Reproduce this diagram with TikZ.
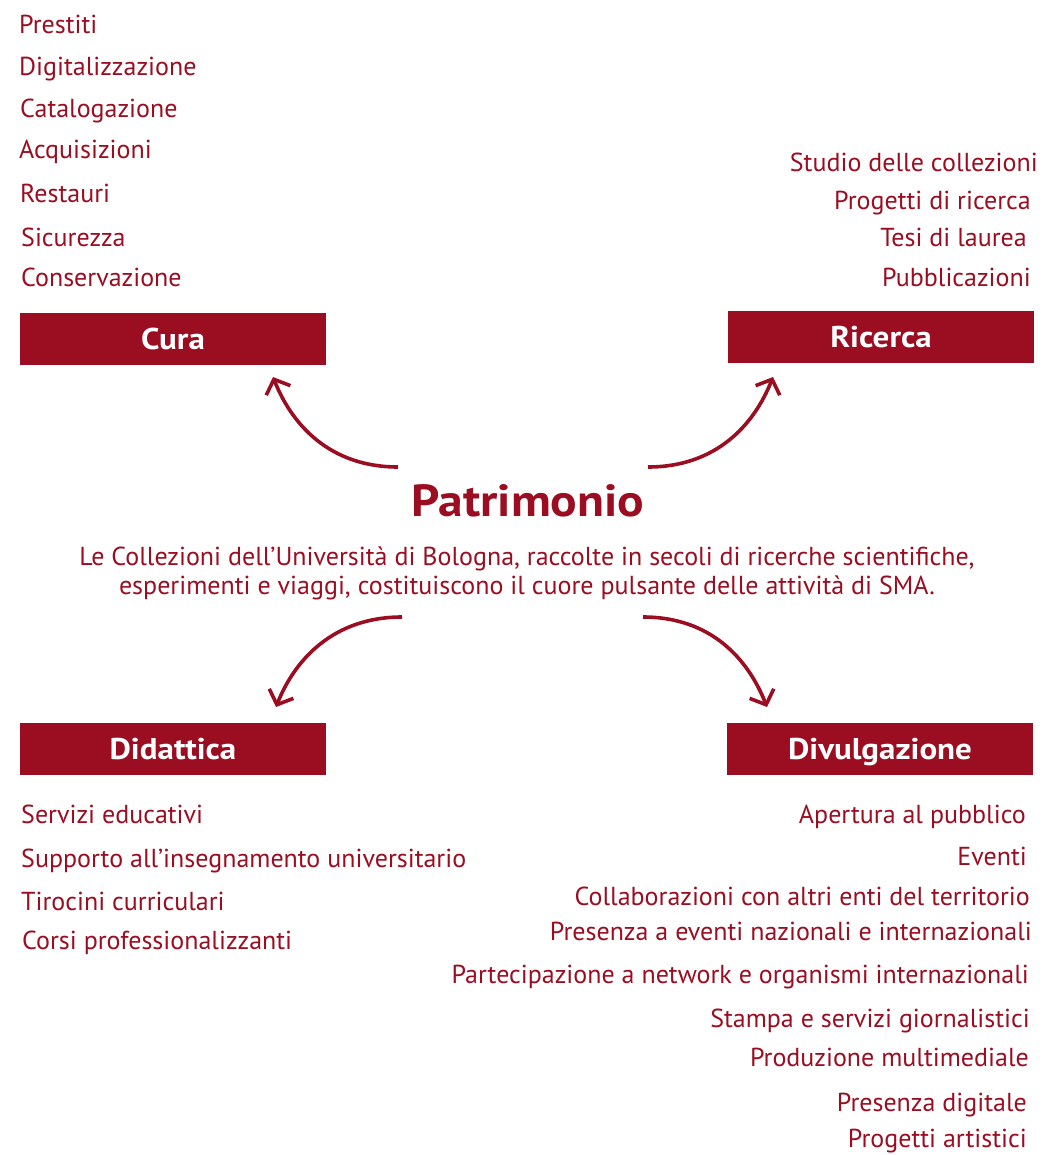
\documentclass[tikz,border=0pt]{standalone}
\usepackage{fontspec}
\setmainfont{PT Sans}
\newfontface\headfont{PT Sans Bold}[FakeStretch=1.1]
\usetikzlibrary{arrows.meta}
\definecolor{unired}{RGB}{155,14,34}
\tikzset{
  itemL/.style={anchor=base west, inner sep=0pt, text=unired, font=\fontsize{26}{31}\selectfont},
  itemR/.style={anchor=base east, inner sep=0pt, text=unired, font=\fontsize{26}{31}\selectfont},
  desctext/.style={anchor=base, inner sep=0pt, text=unired, font=\fontsize{26}{31}\selectfont},
  catbox/.style={fill=unired, text=white, minimum width=306pt, minimum height=52pt, inner sep=0pt,
    text height=21pt, text depth=0pt, font=\headfont\fontsize{30}{36}\selectfont},
  flow/.style={draw=unired, line width=3.6pt, -{Straight Barb[length=12pt,width=26pt,line width=3.6pt]}}
}
\begin{document}
\begin{tikzpicture}[x=1pt,y=-1pt]
\useasboundingbox (0,0) rectangle (1042,1155);

% Category boxes
\node[catbox] (cura) at (173,339) {Cura};
\node[catbox] (ricerca) at (881,337) {Ricerca};
\node[catbox] (didattica) at (173,749) {Didattica};
\node[catbox] (divulgazione) at (880,749) {Divulgazione};

% Centre
\node[anchor=base, inner sep=0pt, text=unired, font=\headfont\fontsize{45}{50}\selectfont] (patrimonio) at (528,516) {Patrimonio};
\node[desctext] (desc1) at (527,565) {Le Collezioni dell’Università di Bologna, raccolte in secoli di ricerche scientifiche,};
\node[desctext] (desc2) at (527,594) {esperimenti e viaggi, costituiscono il cuore pulsante delle attività di SMA.};

% Cura list
\node[itemL] (c1) at (19,34) {Prestiti};
\node[itemL] (c2) at (19,76) {Digitalizzazione};
\node[itemL] (c3) at (20,118) {Catalogazione};
\node[itemL] (c4) at (19,159) {Acquisizioni};
\node[itemL] (c5) at (20,203) {Restauri};
\node[itemL] (c6) at (21,247) {Sicurezza};
\node[itemL] (c7) at (21,287) {Conservazione};

% Ricerca list
\node[itemR] (r1) at (1038,172) {Studio delle collezioni};
\node[itemR] (r2) at (1031,210) {Progetti di ricerca};
\node[itemR] (r3) at (1027,247) {Tesi di laurea};
\node[itemR] (r4) at (1031,287) {Pubblicazioni};

% Didattica list
\node[itemL] (d1) at (21,823) {Servizi educativi};
\node[itemL] (d2) at (21,867) {Supporto all’insegnamento universitario};
\node[itemL] (d3) at (21,910) {Tirocini curriculari};
\node[itemL] (d4) at (22,949) {Corsi professionalizzanti};

% Divulgazione list
\node[itemR] (v1) at (1026,823) {Apertura al pubblico};
\node[itemR] (v2) at (1027,865) {Eventi};
\node[itemR] (v3) at (1030,905) {Collaborazioni con altri enti del territorio};
\node[itemR] (v4) at (1032,940) {Presenza a eventi nazionali e internazionali};
\node[itemR] (v5) at (1029,983) {Partecipazione a network e organismi internazionali};
\node[itemR] (v6) at (1030,1027) {Stampa e servizi giornalistici};
\node[itemR] (v7) at (1029,1066) {Produzione multimediale};
\node[itemR] (v8) at (1027,1111) {Presenza digitale};
\node[itemR] (v9) at (1027,1147) {Progetti artistici};

% Arrow end points
\coordinate (aUL) at (398,467);
\coordinate (tUL) at (273,377);
\coordinate (aUR) at (648,467);
\coordinate (tUR) at (773,377);
\coordinate (aLL) at (402,617);
\coordinate (tLL) at (276,707);
\coordinate (aLR) at (643,617);
\coordinate (tLR) at (767,707);

\draw[flow] (aUL) .. controls (330,467) and (292,425) .. (tUL);
\draw[flow] (aUR) .. controls (716,467) and (754,425) .. (tUR);
\draw[flow] (aLL) .. controls (334,617) and (295,659) .. (tLL);
\draw[flow] (aLR) .. controls (711,617) and (748,659) .. (tLR);
\end{tikzpicture}
\end{document}
